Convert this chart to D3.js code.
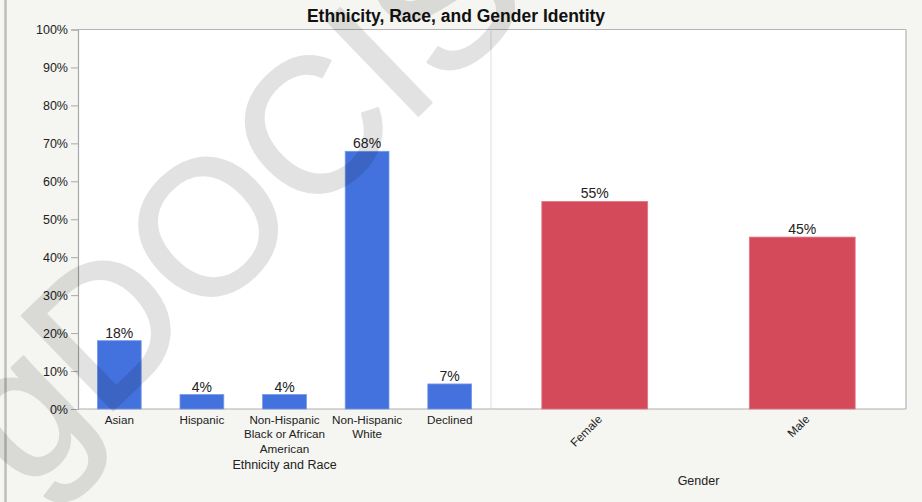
<!DOCTYPE html>
<html><head><meta charset="utf-8">
<script src="https://cdn.jsdelivr.net/npm/d3@7"></script>
<style>
html,body{margin:0;padding:0;background:#f5f5f1;}
svg{display:block;font-family:"Liberation Sans",Arial,Helvetica,sans-serif;}
</style></head><body>
<svg id="chart" width="922" height="502"></svg>
<script>
// ---- data ----
const chartTitle = "Ethnicity, Race, and Gender Identity";
const ethnicityCategories = ["Asian", "Hispanic", "Non-Hispanic\nBlack or African\nAmerican", "Non-Hispanic\nWhite", "Declined"];
const ethnicityValues = [18.0, 3.8, 3.8, 67.9, 6.6];
const genderCategories = ["Female", "Male"];
const genderValues = [54.7, 45.3];
const yTickValues = [0, 10, 20, 30, 40, 50, 60, 70, 80, 90, 100];
const ethnicityAxisTitle = "Ethnicity and Race";
const genderAxisTitle = "Gender";
const watermarkText = "gDOCIS";

// ---- layout ----
const W = 922, H = 502;
const plotLeft = 78, plotDivider = 491, plotRight = 906, plotTop = 29.5, plotBottom = 409;
const blue = "#4371dd", blueEdge = "#7897e6", red = "#d44a5a", redEdge = "#e07884";
const fmt = v => d3.format(".0f")(v) + "%";

const svg = d3.select("#chart");

svg.append("rect").attr("width", W).attr("height", H).attr("fill", "#f5f5f1");
svg.append("line").attr("x1", 5.5).attr("x2", 5.5).attr("y1", 0).attr("y2", H)
  .attr("stroke", "#bdbdbb").attr("stroke-width", 2.5);

const y = d3.scaleLinear().domain([0, 100]).range([plotBottom, plotTop]);
const xE = d3.scaleBand().domain(ethnicityCategories).range([plotLeft, plotDivider])
  .paddingInner(0.47).paddingOuter(0.235);
const xG = d3.scaleBand().domain(genderCategories).range([plotDivider, plotRight])
  .paddingInner(0.49).paddingOuter(0.245);

// plot background
svg.append("rect").attr("x", plotLeft).attr("y", plotTop)
  .attr("width", plotRight - plotLeft).attr("height", plotBottom - plotTop).attr("fill", "#ffffff");

// frame lines
svg.append("line").attr("x1", plotLeft).attr("x2", plotRight).attr("y1", plotTop).attr("y2", plotTop)
  .attr("stroke", "#b4b4b4").attr("stroke-width", 1.2);
svg.append("line").attr("x1", plotRight).attr("x2", plotRight).attr("y1", plotTop).attr("y2", plotBottom)
  .attr("stroke", "#c0c0c0").attr("stroke-width", 1.5);
svg.append("line").attr("x1", plotDivider).attr("x2", plotDivider).attr("y1", plotTop).attr("y2", plotBottom)
  .attr("stroke", "#dedede").attr("stroke-width", 1);

// y axis
const yAxis = svg.append("g").attr("transform", `translate(${plotLeft},0)`)
  .call(d3.axisLeft(y).tickValues(yTickValues).tickSize(7).tickPadding(3).tickFormat(d => d + "%"));
yAxis.select(".domain").attr("stroke", "#a8a8a8").attr("stroke-width", 1.2);
yAxis.selectAll(".tick line").attr("stroke", "#a8a8a8");
yAxis.selectAll(".tick text").attr("fill", "#222").style("font-size", "12.5px")
  .style("font-family", "'Liberation Sans',Arial,sans-serif");

// bottom axis line
svg.append("line").attr("x1", plotLeft).attr("x2", plotRight).attr("y1", plotBottom).attr("y2", plotBottom)
  .attr("stroke", "#b0b0b0").attr("stroke-width", 1.2);

// ethnicity bars
const ethData = ethnicityCategories.map((c, i) => ({ c, v: ethnicityValues[i] }));
svg.append("g").selectAll("rect").data(ethData).join("rect")
  .attr("x", d => xE(d.c)).attr("width", xE.bandwidth())
  .attr("y", d => y(d.v)).attr("height", d => y(0) - y(d.v))
  .attr("fill", blue).attr("stroke", blueEdge).attr("stroke-width", 0.8);
svg.append("g").selectAll("text").data(ethData).join("text")
  .attr("x", d => xE(d.c) + xE.bandwidth() / 2).attr("y", d => y(d.v) - 3)
  .attr("text-anchor", "middle").attr("fill", "#222").style("font-size", "14px")
  .text(d => fmt(d.v));

// gender bars
const genData = genderCategories.map((c, i) => ({ c, v: genderValues[i] }));
svg.append("g").selectAll("rect").data(genData).join("rect")
  .attr("x", d => xG(d.c)).attr("width", xG.bandwidth())
  .attr("y", d => y(d.v)).attr("height", d => y(0) - y(d.v))
  .attr("fill", red).attr("stroke", redEdge).attr("stroke-width", 0.8);
svg.append("g").selectAll("text").data(genData).join("text")
  .attr("x", d => xG(d.c) + xG.bandwidth() / 2).attr("y", d => y(d.v) - 3)
  .attr("text-anchor", "middle").attr("fill", "#222").style("font-size", "14px")
  .text(d => fmt(d.v));

// ethnicity category labels
const eLab = svg.append("g").selectAll("text").data(ethnicityCategories).join("text")
  .attr("text-anchor", "middle").attr("fill", "#222").style("font-size", "11.7px")
  .attr("transform", d => `translate(${xE(d) + xE.bandwidth() / 2},${plotBottom + 14.5})`);
eLab.selectAll("tspan").data(d => d.split("\n")).join("tspan")
  .attr("x", 0).attr("y", (d, i) => i * 14.7).text(d => d);

// gender category labels (rotated)
svg.append("g").selectAll("text").data(genderCategories).join("text")
  .attr("text-anchor", "end").attr("fill", "#222").style("font-size", "11.7px")
  .attr("transform", d => `translate(${xG(d) + xG.bandwidth() / 2 + 8},${plotBottom + 11}) rotate(-45)`)
  .text(d => d);

// axis titles
svg.append("text").attr("x", (plotLeft + plotDivider) / 2).attr("y", 469)
  .attr("text-anchor", "middle").attr("fill", "#222").style("font-size", "12.5px").text(ethnicityAxisTitle);
svg.append("text").attr("x", (plotDivider + plotRight) / 2).attr("y", 485)
  .attr("text-anchor", "middle").attr("fill", "#222").style("font-size", "12.5px").text(genderAxisTitle);

// title
svg.append("text").attr("x", 456).attr("y", 21.5).attr("text-anchor", "middle")
  .attr("fill", "#111").style("font-size", "17.5px").style("font-weight", "bold").text(chartTitle);

// watermark overlay
svg.append("g").attr("opacity", 0.11).style("pointer-events", "none")
  .append("text").attr("transform", "translate(26,494) rotate(-44)")
  .attr("fill", "#000").attr("stroke", "#000").attr("stroke-width", 3)
  .attr("stroke-linejoin", "round").style("font-size", "190px")
  .text(watermarkText);
</script>
</body></html>
